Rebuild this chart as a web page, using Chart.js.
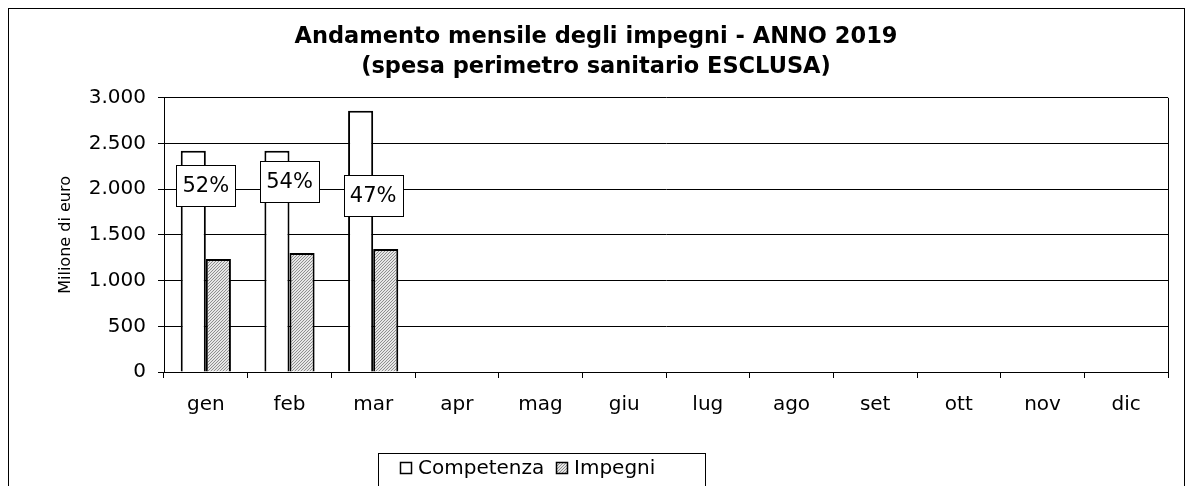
<!DOCTYPE html>
<html>
<head>
<meta charset="utf-8">
<script src="https://cdn.jsdelivr.net/npm/chart.js@4/dist/chart.umd.min.js"></script>
<style>
  body { margin: 0; background: #fff; }
</style>
</head>
<body>
<canvas id="theChart" width="1192" height="486"></canvas>
<script>
'use strict';
// data
var months = ['gen', 'feb', 'mar', 'apr', 'mag', 'giu', 'lug', 'ago', 'set', 'ott', 'nov', 'dic'];
var competenza = [2420, 2420, 2858, null, null, null, null, null, null, null, null, null];
var impegni = [1237, 1303, 1347, null, null, null, null, null, null, null, null, null];
var percentLabels = ['52%', '54%', '47%'];
var yTicks = [0, 500, 1000, 1500, 2000, 2500, 3000];

var FONT = 'DejaVu Sans';
var ctx = document.getElementById('theChart').getContext('2d');

// hatched fill for "Impegni"
function makeHatch() {
    var c = document.createElement('canvas');
    c.width = 3;
    c.height = 3;
    var x = c.getContext('2d');
    x.fillStyle = '#e6e6e6';
    x.fillRect(0, 0, 3, 3);
    x.fillStyle = '#8e8e8e';
    x.fillRect(2, 0, 1, 1);
    x.fillRect(1, 1, 1, 1);
    x.fillRect(0, 2, 1, 1);
    return ctx.createPattern(c, 'repeat');
}
var hatch = makeHatch();

function formatIt(v) {
    return String(v).replace(/\B(?=(\d{3})+(?!\d))/g, '.');
}

// frame, plot border, percent boxes and legend
var extras = {
    id: 'extras',
    beforeDraw: function (chart) {
        var c = chart.ctx;
        c.save();
        c.fillStyle = '#fff';
        c.fillRect(0, 0, chart.width, chart.height);
        c.strokeStyle = '#000';
        c.lineWidth = 1;
        c.strokeRect(8.5, 8.5, 1176, 520);
        c.restore();
    },
    afterDraw: function (chart) {
        var c = chart.ctx;
        var a = chart.chartArea;
        var xs = chart.scales.x;
        var ys = chart.scales.y;
        c.save();
        c.strokeStyle = '#000';
        c.lineWidth = 1;
        c.beginPath();
        c.moveTo(Math.round(a.right) + 0.5, a.top);
        c.lineTo(Math.round(a.right) + 0.5, a.bottom + 6);
        c.stroke();

        // percent boxes (vertical spot in data units)
        var labelAt = [2036, 2080, 1927];
        c.font = '21px ' + FONT;
        c.textAlign = 'center';
        c.textBaseline = 'middle';
        for (var i = 0; i < percentLabels.length; i++) {
            var cx = xs.getPixelForValue(i);
            var cy = ys.getPixelForValue(labelAt[i]);
            var w = 59, h = 41;
            c.fillStyle = '#fff';
            c.fillRect(Math.round(cx - w / 2) + 0.5, Math.round(cy - h / 2) + 0.5, w, h);
            c.strokeRect(Math.round(cx - w / 2) + 0.5, Math.round(cy - h / 2) + 0.5, w, h);
            c.fillStyle = '#000';
            c.fillText(percentLabels[i], cx, cy + 1);
        }

        // legend
        c.font = '20px ' + FONT;
        c.fillStyle = '#fff';
        c.fillRect(378.5, 453.5, 327, 40);
        c.strokeRect(378.5, 453.5, 327, 40);
        var ds = chart.data.datasets;
        var lx = [400, 556];
        c.textAlign = 'left';
        for (var j = 0; j < ds.length; j++) {
            c.fillStyle = ds[j].backgroundColor;
            c.fillRect(lx[j] + 0.5, 462.5, 11, 11);
            c.strokeStyle = '#000';
            c.lineWidth = 1.5;
            c.strokeRect(lx[j] + 0.5, 462.5, 11, 11);
            c.fillStyle = '#000';
            c.fillText(ds[j].label, lx[j] + 18, 469);
        }
        c.restore();
    }
};

var chart = new Chart(ctx, {
    type: 'bar',
    data: {
        labels: months,
        datasets: [
            {
                label: 'Competenza',
                data: competenza,
                backgroundColor: '#ffffff',
                borderColor: '#000',
                borderWidth: 2,
                categoryPercentage: 0.6,
                barPercentage: 1.0
            },
            {
                label: 'Impegni',
                data: impegni,
                backgroundColor: hatch,
                borderColor: '#000',
                borderWidth: 2,
                categoryPercentage: 0.6,
                barPercentage: 1.0
            }
        ]
    },
    options: {
        responsive: false,
        animation: false,
        layout: { padding: 0 },
        plugins: {
            legend: { display: false },
            tooltip: { enabled: false },
            title: {
                display: true,
                text: ['Andamento mensile degli impegni - ANNO 2019', '(spesa perimetro sanitario ESCLUSA)'],
                color: '#000',
                font: { family: FONT, size: 22.5, weight: 'bold', lineHeight: 1.33 },
                padding: { top: 22, bottom: 16 }
            }
        },
        scales: {
            x: {
                grid: { display: true, drawOnChartArea: false, drawTicks: true, tickLength: 6, color: '#000', offset: true },
                border: { color: '#000', width: 1 },
                ticks: { color: '#000', font: { family: FONT, size: 20 }, padding: 15 },
                afterFit: function (scale) { scale.height = 114; }
            },
            y: {
                min: 0,
                max: 3000,
                afterBuildTicks: function (scale) {
                    scale.ticks = yTicks.map(function (v) { return { value: v }; });
                },
                grid: { color: '#000', tickLength: 6, drawTicks: true },
                border: { color: '#000', width: 1 },
                ticks: {
                    color: '#000',
                    font: { family: FONT, size: 20 },
                    padding: 12,
                    callback: function (v) { return formatIt(v); }
                },
                title: {
                    display: true,
                    text: 'Milione di euro',
                    color: '#000',
                    font: { family: FONT, size: 16 },
                    padding: { top: 56, bottom: 0 }
                },
                afterFit: function (scale) { scale.width = 164; }
            },
            // empty right strip so the title stays centred on the page
            spacer: {
                type: 'linear',
                position: 'right',
                display: true,
                grid: { display: false },
                border: { display: false },
                ticks: { display: false },
                afterFit: function (scale) { scale.width = 24; }
            }
        }
    },
    plugins: [extras]
});
</script>
</body>
</html>
